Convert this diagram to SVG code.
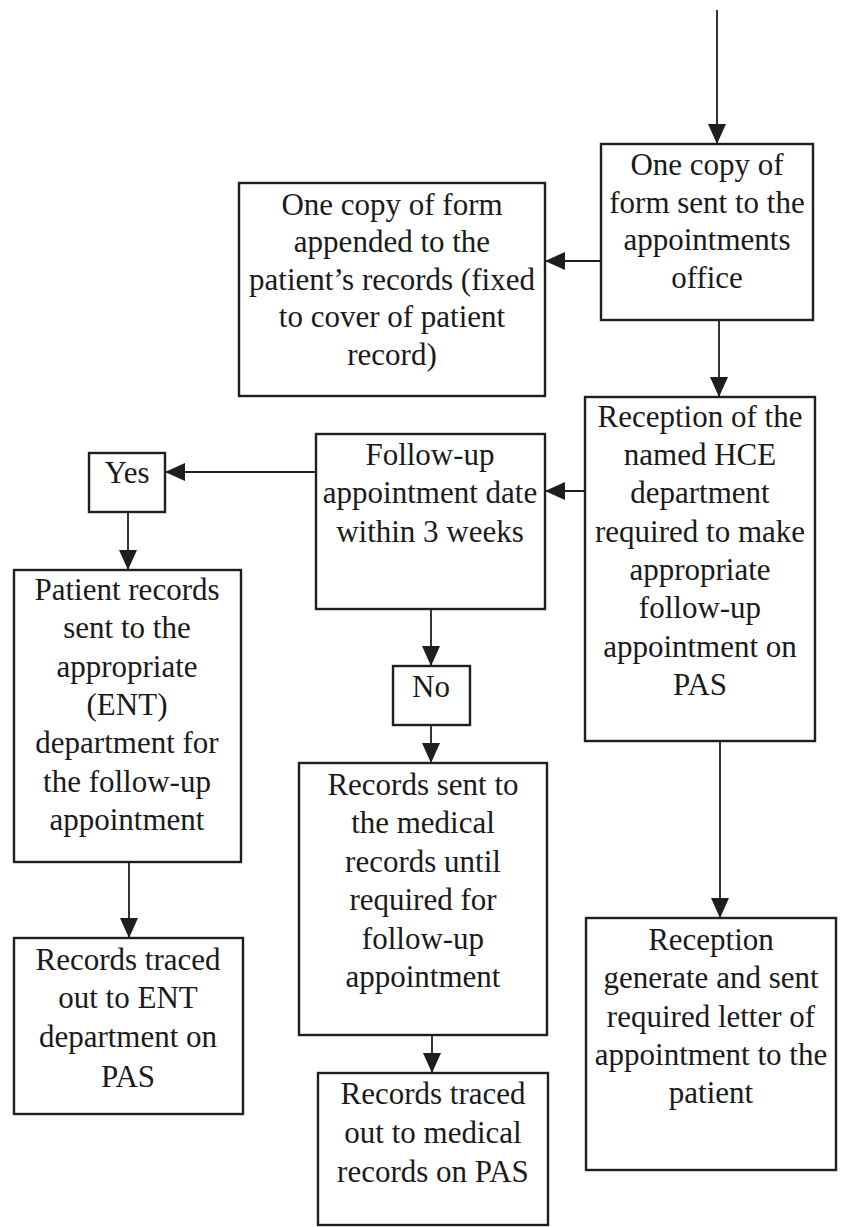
<svg xmlns="http://www.w3.org/2000/svg" width="847" height="1227" viewBox="0 0 847 1227">
  <style>
    .box { fill: #fff; stroke: #1e1e1e; stroke-width: 2.4; }
    .lbl { font-family: 'Liberation Serif', 'Times New Roman', Tinos, 'DejaVu Serif', serif; font-size: 31px; fill: #1a1a1a; text-anchor: middle; }
    .wire { stroke: #1e1e1e; stroke-width: 1.8; fill: none; marker-end: url(#head); }
  </style>
  <defs>
    <marker id="head" markerUnits="userSpaceOnUse" markerWidth="20" markerHeight="18" viewBox="0 0 20 18" refX="20" refY="9" orient="auto">
      <path d="M0,0 L20,9 L0,18 Z" fill="#1e1e1e"/>
    </marker>
  </defs>
  <rect width="847" height="1227" fill="#fff"/>

  <g id="connectors">
    <line class="wire" x1="717" y1="10" x2="717" y2="144"/>
    <line class="wire" x1="601" y1="261" x2="545" y2="261"/>
    <line class="wire" x1="719" y1="320" x2="719" y2="397"/>
    <line class="wire" x1="585" y1="491" x2="545" y2="491"/>
    <line class="wire" x1="316" y1="472" x2="165" y2="472"/>
    <line class="wire" x1="128" y1="512" x2="128" y2="570"/>
    <line class="wire" x1="431" y1="609" x2="431" y2="666"/>
    <line class="wire" x1="431" y1="725" x2="431" y2="763"/>
    <line class="wire" x1="129" y1="862" x2="129" y2="938"/>
    <line class="wire" x1="432" y1="1035" x2="432" y2="1073"/>
    <line class="wire" x1="720" y1="741" x2="720" y2="918"/>
  </g>

  <g id="copy-to-appointments">
    <rect class="box" x="601" y="144" width="212" height="176"/>
    <text class="lbl" font-family="Liberation Serif, serif"><tspan x="707" y="175">One copy of</tspan><tspan x="707" y="213">form sent to the</tspan><tspan x="707" y="250">appointments</tspan><tspan x="707" y="288">office</tspan></text>
  </g>

  <g id="copy-appended">
    <rect class="box" x="239" y="183" width="306" height="213"/>
    <text class="lbl"><tspan x="392" y="215">One copy of form</tspan><tspan x="392" y="252">appended to the</tspan><tspan x="392" y="290">patient’s records (fixed</tspan><tspan x="392" y="327">to cover of patient</tspan><tspan x="392" y="365">record)</tspan></text>
  </g>

  <g id="reception-hce">
    <rect class="box" x="585" y="397" width="230" height="344"/>
    <text class="lbl"><tspan x="700" y="427">Reception of the</tspan><tspan x="700" y="465">named HCE</tspan><tspan x="700" y="503">department</tspan><tspan x="700" y="542">required to make</tspan><tspan x="700" y="580">appropriate</tspan><tspan x="700" y="618">follow-up</tspan><tspan x="700" y="657">appointment on</tspan><tspan x="700" y="695">PAS</tspan></text>
  </g>

  <g id="follow-up-check">
    <rect class="box" x="316" y="434" width="229" height="175"/>
    <text class="lbl"><tspan x="430" y="465">Follow-up</tspan><tspan x="430" y="503">appointment date</tspan><tspan x="430" y="542">within 3 weeks</tspan></text>
  </g>

  <g id="yes">
    <rect class="box" x="89" y="453" width="76" height="59"/>
    <text class="lbl" x="127" y="483">Yes</text>
  </g>

  <g id="no">
    <rect class="box" x="393" y="666" width="77" height="59"/>
    <text class="lbl" x="431" y="697">No</text>
  </g>

  <g id="records-to-ent">
    <rect class="box" x="14" y="570" width="227" height="292"/>
    <text class="lbl"><tspan x="127" y="600">Patient records</tspan><tspan x="127" y="638">sent to the</tspan><tspan x="127" y="677">appropriate</tspan><tspan x="127" y="715">(ENT)</tspan><tspan x="127" y="753">department for</tspan><tspan x="127" y="792">the follow-up</tspan><tspan x="127" y="830">appointment</tspan></text>
  </g>

  <g id="records-to-medical">
    <rect class="box" x="299" y="763" width="248" height="272"/>
    <text class="lbl"><tspan x="423" y="795">Records sent to</tspan><tspan x="423" y="833">the medical</tspan><tspan x="423" y="872">records until</tspan><tspan x="423" y="910">required for</tspan><tspan x="423" y="949">follow-up</tspan><tspan x="423" y="987">appointment</tspan></text>
  </g>

  <g id="traced-ent">
    <rect class="box" x="14" y="938" width="229" height="176"/>
    <text class="lbl"><tspan x="128" y="970">Records traced</tspan><tspan x="128" y="1008">out to ENT</tspan><tspan x="128" y="1047">department on</tspan><tspan x="128" y="1087">PAS</tspan></text>
  </g>

  <g id="traced-medical">
    <rect class="box" x="318" y="1073" width="230" height="152"/>
    <text class="lbl"><tspan x="433" y="1104">Records traced</tspan><tspan x="433" y="1143">out to medical</tspan><tspan x="433" y="1182">records on PAS</tspan></text>
  </g>

  <g id="appointment-letter">
    <rect class="box" x="586" y="918" width="250" height="252"/>
    <text class="lbl"><tspan x="711" y="950">Reception</tspan><tspan x="711" y="988">generate and sent</tspan><tspan x="711" y="1027">required letter of</tspan><tspan x="711" y="1065">appointment to the</tspan><tspan x="711" y="1103">patient</tspan></text>
  </g>
</svg>
